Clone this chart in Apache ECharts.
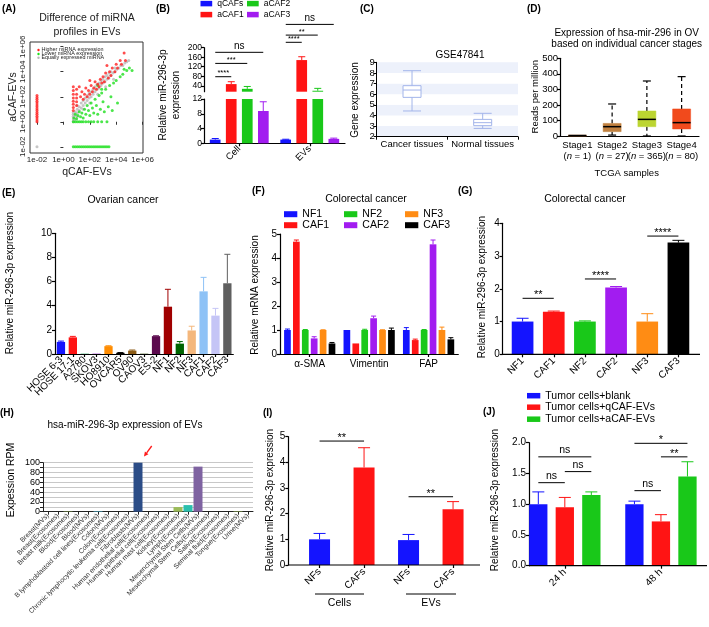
<!DOCTYPE html>
<html><head><meta charset="utf-8">
<script src="https://cdn.jsdelivr.net/npm/echarts@6/dist/echarts.min.js"></script>
<style>html,body{margin:0;padding:0;background:#fff}#c{width:709px;height:627px}</style>
</head><body><div id="c"></div>
<script>
// ---------------- DATA ----------------
// (A) scatter, log10 of normalized counts [qCAF-EVs, aCAF-EVs]
const aTicks = [-2, 0, 2, 4, 6];
const aRed = [[-2,0.0],[-2,0.15],[-2,0.3],[-2,0.45],[-2,0.6],[-2,0.75],[-2,0.9],[-2,1.05],[-2,1.2],[-2,1.35],[-2,1.5],[-2,1.65],[-2,1.8],[-2,1.95],[-2,2.1],
 [0.75,0.9],[0.75,1.15],[0.75,1.4],[0.75,1.65],[0.75,1.9],[0.75,2.2],[0.75,2.5],[0.75,2.8],
 [1.0,1.3],[1.0,1.6],[1.0,1.9],[1.0,2.2],[1.0,2.6],[1.2,2.8],[1.3,2.0],[1.4,2.4],[1.5,1.8],[1.6,2.2],[1.7,2.7],[1.8,2.0],[1.9,2.5],
 [2.0,2.2],[2.0,3.3],[2.1,2.9],[2.2,2.4],[2.3,2.7],[2.4,3.2],[2.5,2.6],[2.6,3.0],[2.7,2.8],[2.8,3.4],[2.9,3.1],[3.0,3.6],[3.1,3.2],
 [3.2,3.9],[3.3,4.5],[3.4,3.5],[3.5,4.0],[3.6,3.7],[3.7,4.3],[3.9,4.0],[4.0,4.6],[4.1,4.3],[4.3,4.9],[4.4,4.6],[4.6,5.5],[4.7,4.9]];
const aGray = [[-2,-2],[0.75,0.0],[0.75,0.15],[0.75,0.3],[0.75,0.45],[0.75,0.6],[0.75,0.75],[0.9,0.2],[0.9,0.5],[0.9,0.8],
 [1.05,0.4],[1.05,0.7],[1.05,1.0],[1.05,1.3],[1.2,0.9],[1.2,1.2],[1.35,1.1],[1.35,1.5],[1.5,1.0],[1.5,1.3],[1.5,1.7],[1.65,1.5],[1.65,1.9],
 [1.8,1.7],[1.8,2.1],[1.95,1.9],[1.95,2.3],[2.0,1.5],[2.1,2.0],[2.1,2.4],[2.25,2.2],[2.25,2.6],[2.4,2.4],[2.4,2.8],[2.55,2.6],[2.55,3.0],
 [2.6,2.2],[2.7,2.7],[2.7,3.1],[2.85,2.9],[2.85,3.3],[3.0,3.1],[3.0,3.4],[3.15,3.2],[3.15,3.6],[3.2,2.8],[3.3,3.4],[3.3,3.7],[3.45,3.5],
 [3.45,3.9],[3.6,3.7],[3.6,4.0],[3.75,3.9],[3.8,3.4],[3.9,4.0],[3.9,4.3],[4.05,4.2],[4.2,4.3],[4.35,4.5],[4.5,4.5],[4.65,4.7],[4.8,4.8],[4.95,4.9]];
const aGreen = [[0.75,-2],[0.9,-2],[1.05,-2],[1.2,-2],[1.35,-2],[1.5,-2],[1.65,-2],[1.8,-2],[1.95,-2],[2.1,-2],[2.25,-2],[2.4,-2],[2.55,-2],[2.7,-2],[2.85,-2],[3.0,-2],[3.15,-2],[3.3,-2],[3.45,-2],
 [0.75,0],[0.9,0],[1.05,0],[1.2,0],[1.35,0],[1.5,0],[1.7,0],[1.9,0],[2.1,0],[2.3,0],[2.6,0],[2.9,0],[3.3,0],
 [0.8,0.3],[0.9,0.6],[1.0,0.25],[1.1,0.5],[1.2,0.8],[1.3,0.4],[1.4,0.7],[1.5,0.3],[1.6,1.0],[1.7,0.6],[1.8,1.3],[1.9,0.9],[2.0,0.5],
 [2.1,1.5],[2.2,1.1],[2.3,0.7],[2.4,1.8],[2.5,1.3],[2.6,0.6],[2.6,2.9],[2.7,2.1],[2.8,1.0],[2.9,2.3],[2.9,2.6],[3.0,1.6],[3.1,0.8],[3.2,2.6],
 [3.4,1.2],[3.5,2.9],[3.6,2.0],[3.7,0.9],[3.8,3.1],[4.0,3.3],[4.1,1.5],[4.3,3.6],[4.5,3.8],[4.6,4.2],[4.8,4.1],[5.0,4.3],[5.2,4.1]];

// (B)
const bCats = ['Cell', 'EVs'];
const bNames = ['qCAFs', 'aCAF1', 'aCAF2', 'aCAF3'];
const bValues = [[1.0, 1.0], [47, 148], [27, 19], [8.75, 1.2]];
const bErrors = [[0.3, 0.1], [10, 14], [10, 10], [2.5, 0.2]];
const bUpperTicks = [40, 80, 120, 160, 200];

// (C) [min, Q1, median, Q3, max]
const cCats = ['Cancer tissues', 'Normal tissues'];
const cBoxes = [[4.42, 5.7, 6.39, 6.8, 8.21], [2.78, 3.04, 3.32, 3.63, 4.2]];

// (D)
const dCats = ['Stage1', 'Stage2', 'Stage3', 'Stage4'];
const dCounts = ['1', '27', '365', '80'];
const dBoxes = [[1, 1, 3, 6, 6], [6, 28, 60, 81, 206], [0, 60, 107, 161, 354], [0, 45, 86, 174, 382]];

// (E)
const eCats = ['HOSE 6-3','HOSE 17-1','A2780','SKOV3','HO8910','OVCAR5','OV90','CAOV3','ES-2','NF1','NF2','NF3','CAF1','CAF2','CAF3'];
const eValues = [1.0, 1.38, 0.03, 0.03, 0.65, 0.1, 0.28, 0.03, 1.48, 3.92, 0.86, 1.95, 5.19, 3.18, 5.86];
const eErrors = [0.07, 0.08, 0, 0, 0.03, 0.02, 0.05, 0, 0.03, 1.44, 0.17, 0.35, 1.16, 0.6, 2.4];

// (F)
const fCats = ['α-SMA', 'Vimentin', 'FAP'];
const fNames = ['NF1', 'CAF1', 'NF2', 'CAF2', 'NF3', 'CAF3'];
const fValues = [[1.0, 1.0, 1.0], [4.68, 0.44, 0.58], [1.0, 1.0, 1.0], [0.65, 1.49, 4.57], [1.0, 1.0, 1.0], [0.44, 1.0, 0.61]];
const fErrors = [[0.04, 0, 0.1], [0.07, 0, 0.04], [0.02, 0.03, 0.02], [0.07, 0.09, 0.18], [0.01, 0.01, 0.12], [0.04, 0.08, 0.07]];

// (G)
const gCats = ['NF1', 'CAF1', 'NF2', 'CAF2', 'NF3', 'CAF3'];
const gValues = [1.0, 1.3, 1.0, 2.04, 1.0, 3.41];
const gErrors = [0.1, 0.02, 0.02, 0.03, 0.24, 0.07];

// (H)
const hCats = ['Breast(MVs)','Breast(Exosomes)','Breast milk(Exosomes)','Blood(Exosomes)','Blood(MVs)','B lymphoblastoid cell lines(Exosomes)','Colon(MVs)','Colon(Exosomes)','Chronic lymphocytic leukemia cell(Exosomes)','Fibroblasts(MVs)','Human endothelial cell(Exosomes)','Human epithelial cell(Exosomes)','Human mast cell(Exosomes)','Kidney(Exosomes)','Lymph(Exosomes)','Mesenchymal Stem Cells(MVs)','Mesenchymal Stem Cells(Exosomes)','Saliva(Exosomes)','Seminal fluid(Exosomes)','Tongue(Exosomes)','Urine(MVs)'];
const hValues = [0, 0, 0.8, 0, 0, 1.2, 0, 0, 0, 101, 0, 0, 0, 9.5, 13.5, 92, 0, 0, 0, 1, 0];

// (I)
const iCats = ['NFs', 'CAFs', 'NFs', 'CAFs'];
const iValues = [1.0, 3.8, 0.97, 2.17];
const iErrors = [0.23, 0.77, 0.22, 0.3];

// (J)
const jCats = ['24 h', '48 h'];
const jNames = ['Tumor cells+blank', 'Tumor cells+qCAF-EVs', 'Tumor cells+aCAF-EVs'];
const jValues = [[1.0, 1.0], [0.95, 0.72], [1.15, 1.45]];
const jErrors = [[0.2, 0.05], [0.16, 0.11], [0.05, 0.24]];

// ---------------- STYLES ----------------
const FONT = '"Liberation Sans", Arial, sans-serif';
const bColors = ['#1414ff', '#ff1414', '#19c819', '#a21cf0'];
const eColors = ['#1414ff','#ff1414','#3cb371','#9932cc','#ff8c00','#000000','#8b5a14','#556b2f','#5c0a4e','#a00000','#006400','#f4b77c','#8ec2f6','#c5c5f6','#5f5f5f'];
const fColors = ['#1414ff', '#ff1414', '#19c819', '#a21cf0', '#ff8c14', '#000000'];
const gColors = ['#1414ff', '#ff1414', '#19c819', '#a21cf0', '#ff8c14', '#000000'];
const hColors = ['#4f81bd','#4f81bd','#9bbb59','#4f81bd','#4f81bd','#4bacc6','#4f81bd','#4f81bd','#4f81bd','#2c4d87','#4f81bd','#4f81bd','#4f81bd','#9bbb59','#2bc0ae','#7f63a1','#4f81bd','#4f81bd','#4f81bd','#9bbb59','#4f81bd'];
const iColors = ['#1414ff', '#ff1414', '#1414ff', '#ff1414'];
const jColors = ['#1414ff', '#ff1414', '#19c819'];
const dColors = ['#c8783c', '#c0803f', '#bcd531', '#f14a1c'];

const AXL = {lineStyle: {color: '#000', width: 1.2}};
function tk(extra) { return Object.assign({show: true, length: 3, lineStyle: {color: '#000', width: 1.2}}, extra || {}); }
function lb(fs, extra) { return Object.assign({color: '#000', fontSize: fs, fontFamily: FONT}, extra || {}); }

function errSeries(xi, yi, data, off, color, cap, lw) {
  return {type: 'custom', xAxisIndex: xi, yAxisIndex: yi, data: data, encode: {x: 0, y: [1, 2]}, z: 3, silent: true, clip: false,
    renderItem: function (p, api) {
      var idx = api.value(0);
      var c0 = api.coord([idx, api.value(1)]), c1 = api.coord([idx, api.value(2)]);
      var x = c0[0] + off;
      var col = Array.isArray(color) ? color[idx] : color;
      var st = {stroke: col, lineWidth: lw || 1};
      return {type: 'group', children: [
        {type: 'line', shape: {x1: x, y1: c0[1], x2: x, y2: c1[1]}, style: st},
        {type: 'line', shape: {x1: x - cap, y1: c1[1], x2: x + cap, y2: c1[1]}, style: st}]};
    }};
}
function errData(vals, errs) {
  var out = [];
  vals.forEach(function (v, i) { if (errs[i] > 0) out.push([i, v, v + errs[i]]); });
  return out;
}
function sigSeries(xi, yi, items, fsStar, fsNs) {
  return {type: 'custom', xAxisIndex: xi, yAxisIndex: yi, silent: true, z: 4, clip: false,
    data: items.map(function (t) { return [t[0], t[2], t[4], t[1], t[3]]; }),
    encode: {x: [0, 1], y: 2},
    renderItem: function (p, api) {
      var a = api.coord([api.value(0), api.value(2)]), b = api.coord([api.value(1), api.value(2)]);
      var x1 = a[0] + api.value(3), x2 = b[0] + api.value(4), y = a[1];
      var txt = items[p.dataIndex][5];
      var isNs = txt === 'ns';
      var fs = isNs ? fsNs : fsStar;
      return {type: 'group', children: [
        {type: 'line', shape: {x1: x1, y1: y, x2: x2, y2: y}, style: {stroke: '#000', lineWidth: 1}},
        {type: 'text', style: {text: txt, x: (x1 + x2) / 2, y: isNs ? y - 1 : y - 5 - 0.31 * fs, align: 'center',
          verticalAlign: isNs ? 'bottom' : 'top', fontSize: fs, fill: '#000', fontFamily: FONT}}]};
    }};
}

// ---------------- GRIDS / AXES ----------------
const grid = [
  {left: 30, top: 42, width: 113, height: 111, show: true, borderColor: '#333', borderWidth: 1, backgroundColor: 'transparent'}, //0 A
  {left: 204, top: 47.7, width: 141, height: 44},     //1 B upper
  {left: 204, top: 99, width: 141, height: 44.3},     //2 B lower
  {left: 376.7, top: 62.3, width: 141.3, height: 74.4}, //3 C
  {left: 560, top: 58.3, width: 139, height: 77.7},   //4 D
  {left: 55, top: 233.3, width: 178.3, height: 120.7}, //5 E
  {left: 280, top: 234, width: 178.3, height: 120},   //6 F
  {left: 507, top: 223.3, width: 187, height: 131},   //7 G
  {left: 43, top: 462.7, width: 210, height: 49},     //8 H
  {left: 297.3, top: 436.7, width: 178, height: 128.3}, //9 I
  {left: 516.75, top: 442.7, width: 195, height: 123}  //10 J
];
function logFmt(v) { return '1e' + (v < 0 ? '-' : '+') + String(Math.abs(v)).padStart(2, '0'); }

const xAxis = [
  {type: 'value', gridIndex: 0, min: -2.53, max: 6.03, axisLine: {show: false}, splitLine: {show: false},
    axisTick: {show: true, customValues: aTicks, length: 3, lineStyle: {color: '#333'}},
    axisLabel: lb(8, {customValues: aTicks, formatter: logFmt, margin: 3, color: '#222'})},
  {type: 'category', gridIndex: 1, data: bCats, show: false},
  {type: 'category', gridIndex: 2, data: bCats, axisLine: AXL, axisTick: tk({alignWithLabel: true}), axisLabel: lb(9.5, {rotate: 45, margin: 4, interval: 0})},
  {type: 'category', gridIndex: 3, data: cCats, axisLine: {lineStyle: {color: '#000', width: 1}}, axisTick: tk({lineStyle: {color: '#000', width: 1}}), axisLabel: lb(9.5, {margin: 3, interval: 0})},
  {type: 'category', gridIndex: 4, data: dCats, axisLine: AXL, axisTick: {show: false},
    axisLabel: lb(9.5, {margin: 4, interval: 0, lineHeight: 11,
      formatter: function (v, i) { return v + '\n({it|n} = ' + dCounts[i] + ')'; },
      rich: {it: {fontStyle: 'italic', fontSize: 9.5, fontFamily: FONT, color: '#000'}}})},
  {type: 'category', gridIndex: 5, data: eCats, axisLine: AXL, axisTick: tk({alignWithLabel: true}), axisLabel: lb(10, {rotate: 45, margin: 4, interval: 0})},
  {type: 'category', gridIndex: 6, data: fCats, axisLine: AXL, axisTick: tk({alignWithLabel: true}), axisLabel: lb(10, {margin: 5, interval: 0})},
  {type: 'category', gridIndex: 7, data: gCats, axisLine: {show: false}, axisTick: tk({alignWithLabel: true}), axisLabel: lb(10, {rotate: 45, margin: 5, interval: 0})},
  {type: 'category', gridIndex: 8, data: hCats, axisLine: {lineStyle: {color: '#222', width: 1}}, axisTick: tk({alignWithLabel: true, lineStyle: {color: '#222', width: 1}}), axisLabel: lb(6.8, {rotate: 45, margin: 3, interval: 0, color: '#333'})},
  {type: 'category', gridIndex: 9, data: iCats, axisLine: {show: false}, axisTick: tk({alignWithLabel: true}), axisLabel: lb(10, {rotate: 45, margin: 5, interval: 0})},
  {type: 'category', gridIndex: 10, data: jCats, axisLine: {show: false}, axisTick: tk({alignWithLabel: true}), axisLabel: lb(10, {rotate: 45, margin: 5, interval: 0})}
];
const yAxis = [
  {type: 'value', gridIndex: 0, min: -2.5, max: 6.38, axisLine: {show: false}, splitLine: {show: false},
    axisTick: {show: true, customValues: aTicks, length: 3, lineStyle: {color: '#333'}},
    axisLabel: lb(8, {customValues: aTicks, formatter: logFmt, rotate: 90, margin: 3, color: '#222'})},
  {type: 'value', gridIndex: 1, min: 15, max: 200, axisLine: Object.assign({show: true}, AXL), splitLine: {show: false},
    axisTick: tk({customValues: bUpperTicks}), axisLabel: lb(8.5, {customValues: bUpperTicks, margin: 2})},
  {type: 'value', gridIndex: 2, min: 0, max: 12, interval: 4, axisLine: Object.assign({show: true}, AXL), splitLine: {show: false}, axisTick: tk(), axisLabel: lb(8.5, {margin: 2})},
  {type: 'value', gridIndex: 3, min: 2, max: 9, interval: 1, axisLine: {show: true, lineStyle: {color: '#000', width: 1}}, splitLine: {show: false},
    splitArea: {show: true, areaStyle: {color: ['#edf1fb', '#ffffff']}}, axisTick: tk({lineStyle: {color: '#000', width: 1}}), axisLabel: lb(9.5, {margin: 2})},
  {type: 'value', gridIndex: 4, min: 0, max: 500, interval: 100, axisLine: Object.assign({show: true}, AXL), splitLine: {show: false}, axisTick: tk(), axisLabel: lb(9.5, {margin: 2})},
  {type: 'value', gridIndex: 5, min: 0, max: 10, interval: 2, axisLine: Object.assign({show: true}, AXL), splitLine: {show: false}, axisTick: tk(), axisLabel: lb(10, {margin: 3})},
  {type: 'value', gridIndex: 6, min: 0, max: 5, interval: 1, axisLine: Object.assign({show: true}, AXL), splitLine: {show: false}, axisTick: tk(), axisLabel: lb(10, {margin: 3})},
  {type: 'value', gridIndex: 7, min: 0, max: 4, interval: 1, offset: 4.3, axisLine: Object.assign({show: true}, AXL), splitLine: {show: false}, axisTick: tk(), axisLabel: lb(10, {margin: 3})},
  {type: 'value', gridIndex: 8, min: 0, max: 100, interval: 10, axisLine: {show: true, lineStyle: {color: '#222', width: 1}}, splitLine: {show: true, lineStyle: {color: '#c8c8c8', width: 1}},
    axisTick: tk({lineStyle: {color: '#222', width: 1}}), axisLabel: lb(9, {margin: 3, formatter: function (v) { return v % 20 === 0 ? v : ''; }})},
  {type: 'value', gridIndex: 9, min: 0, max: 5, interval: 1, offset: 9, axisLine: Object.assign({show: true}, AXL), splitLine: {show: false}, axisTick: tk(), axisLabel: lb(10, {margin: 3})},
  {type: 'value', gridIndex: 10, min: 0, max: 2, interval: 0.5, offset: -12.25, axisLine: Object.assign({show: true}, AXL), splitLine: {show: false}, axisTick: tk(),
    axisLabel: lb(10, {margin: 3, formatter: function (v) { return v.toFixed(1); }})}
];

// ---------------- SERIES ----------------
const series = [];
// A
series.push({type: 'scatter', xAxisIndex: 0, yAxisIndex: 0, data: aGray, symbolSize: 3, itemStyle: {color: '#b8b8b8'}, silent: true});
series.push({type: 'scatter', xAxisIndex: 0, yAxisIndex: 0, data: aGreen, symbolSize: 3, itemStyle: {color: '#1ee01e'}, silent: true});
series.push({type: 'scatter', xAxisIndex: 0, yAxisIndex: 0, data: aRed, symbolSize: 3, itemStyle: {color: '#ff2020'}, silent: true});
// B
bNames.forEach(function (n, i) {
  [1, 2].forEach(function (ax) {
    series.push({type: 'bar', name: n, xAxisIndex: ax, yAxisIndex: ax, data: bValues[i], barWidth: 10.7, barGap: '50%', clip: true, itemStyle: {color: bColors[i]}, silent: true});
  });
  var off = (i - 1.5) * 16;
  var up = [], lo = [];
  bValues[i].forEach(function (v, k) { (v > 12 ? up : lo).push([k, v, v + bErrors[i][k]]); });
  series.push(errSeries(1, 1, up, off, bColors[i], 3.5));
  series.push(errSeries(2, 2, lo, off, bColors[i], 3.5));
});
series.push(sigSeries(1, 1, [
  [0, -24, 0, -8, 78, '****'], [0, -24, 0, 8, 134, '***'], [0, -24, 0, 24, 180.6, 'ns'],
  [1, -24, 1, -8, 222.7, '****'], [1, -24, 1, 8, 253, '**'], [1, -24, 1, 24, 298, 'ns']], 7.5, 10));
// C
series.push({type: 'boxplot', xAxisIndex: 3, yAxisIndex: 3, data: cBoxes, boxWidth: [18, 18], silent: true,
  itemStyle: {color: '#ffffff', borderColor: '#a3b5ea', borderWidth: 1}});
// D
series.push({type: 'custom', xAxisIndex: 4, yAxisIndex: 4, silent: true,
  data: dBoxes.map(function (b, i) { return [i].concat(b); }), encode: {x: 0, y: [1, 2, 3, 4, 5]},
  renderItem: function (p, api) {
    var i = api.value(0);
    var pMin = api.coord([i, api.value(1)]), pQ1 = api.coord([i, api.value(2)]), pMed = api.coord([i, api.value(3)]),
        pQ3 = api.coord([i, api.value(4)]), pMax = api.coord([i, api.value(5)]);
    var x = pMed[0], hw = 9, cw = 4, col = dColors[i];
    var ch = [];
    if (pMax[1] < pQ3[1]) {
      ch.push({type: 'line', shape: {x1: x, y1: pQ3[1], x2: x, y2: pMax[1]}, style: {stroke: '#000', lineWidth: 1.2, lineDash: [4, 3]}});
      ch.push({type: 'line', shape: {x1: x - cw, y1: pMax[1], x2: x + cw, y2: pMax[1]}, style: {stroke: '#000', lineWidth: 1.2}});
    }
    if (pMin[1] > pQ1[1]) {
      ch.push({type: 'line', shape: {x1: x, y1: pQ1[1], x2: x, y2: pMin[1]}, style: {stroke: '#000', lineWidth: 1.2, lineDash: [4, 3]}});
      ch.push({type: 'line', shape: {x1: x - cw, y1: pMin[1], x2: x + cw, y2: pMin[1]}, style: {stroke: '#000', lineWidth: 1.2}});
    }
    ch.push({type: 'rect', shape: {x: x - hw, y: pQ3[1], width: 2 * hw, height: Math.max(1, pQ1[1] - pQ3[1])}, style: {fill: col, stroke: col, lineWidth: 0.5}});
    ch.push({type: 'line', shape: {x1: x - hw, y1: pMed[1], x2: x + hw, y2: pMed[1]}, style: {stroke: '#000', lineWidth: 1.5}});
    return {type: 'group', children: ch};
  }});
// E
series.push({type: 'bar', xAxisIndex: 5, yAxisIndex: 5, barWidth: 8.3, silent: true,
  data: eValues.map(function (v, i) { return {value: v, itemStyle: {color: eColors[i]}}; })});
series.push(errSeries(5, 5, errData(eValues, eErrors), 0, eColors, 3));
// F
fNames.forEach(function (n, i) {
  series.push({type: 'bar', name: n, xAxisIndex: 6, yAxisIndex: 6, data: fValues[i], barWidth: 6.7, barGap: '33%', itemStyle: {color: fColors[i]}, silent: true});
  series.push(errSeries(6, 6, errData(fValues[i], fErrors[i]), (i - 2.5) * 8.9, fColors[i], 2.5));
});
// G
series.push({type: 'bar', xAxisIndex: 7, yAxisIndex: 7, barWidth: 21.7, silent: true,
  data: gValues.map(function (v, i) { return {value: v, itemStyle: {color: gColors[i]}}; })});
series.push(errSeries(7, 7, errData(gValues, gErrors), 0, gColors, 6));
series.push(sigSeries(7, 7, [[0, 0, 1, 0, 1.71, '**'], [2, 0, 3, 0, 2.30, '****'], [4, 0, 5, 0, 3.61, '****']], 11, 10.5));
// H
series.push({type: 'bar', xAxisIndex: 8, yAxisIndex: 8, barWidth: 9, silent: true,
  data: hValues.map(function (v, i) { return {value: v, itemStyle: {color: hColors[i]}}; })});
// I
series.push({type: 'bar', xAxisIndex: 9, yAxisIndex: 9, barWidth: 21, silent: true,
  data: iValues.map(function (v, i) { return {value: v, itemStyle: {color: iColors[i]}}; })});
series.push(errSeries(9, 9, errData(iValues, iErrors), 0, iColors, 6));
series.push(sigSeries(9, 9, [[0, 0, 1, 0, 4.83, '**'], [2, 0, 3, 0, 2.66, '**']], 11, 10.5));
// J
jNames.forEach(function (n, i) {
  series.push({type: 'bar', name: n, xAxisIndex: 10, yAxisIndex: 10, data: jValues[i], barWidth: 18.3, barGap: '45%', itemStyle: {color: jColors[i]}, silent: true});
  series.push(errSeries(10, 10, errData(jValues[i], jErrors[i]), (i - 1) * 26.5, jColors[i], 6));
});
series.push(sigSeries(10, 10, [
  [0, -26.5, 0, 0, 1.35, 'ns'], [0, 0, 0, 26.5, 1.53, 'ns'], [0, -26.5, 0, 26.5, 1.77, 'ns'],
  [1, -26.5, 1, 0, 1.22, 'ns'], [1, 0, 1, 26.5, 1.77, '**'], [1, -26.5, 1, 26.5, 1.99, '*']], 11, 10.5));

// ---------------- LEGENDS ----------------
const legend = [];
function LG(name, left, cy, fs, w, h) {
  legend.push({data: [name], left: left, top: cy - 0.6 * fs, orient: 'horizontal', padding: 0, itemGap: 0,
    itemWidth: w, itemHeight: h, icon: 'rect', selectedMode: false,
    textStyle: {fontSize: fs, color: '#000', fontFamily: FONT}});
}
LG('qCAFs', 200.5, 4.2, 8.5, 11.7, 5.5); LG('aCAF2', 247, 4.2, 8.5, 11.7, 5.5);
LG('aCAF1', 200.5, 15.2, 8.5, 11.7, 5.5); LG('aCAF3', 247, 15.2, 8.5, 11.7, 5.5);
LG('NF1', 284, 215, 10.5, 13.3, 6); LG('NF2', 344, 215, 10.5, 13.3, 6); LG('NF3', 405, 215, 10.5, 13.3, 6);
LG('CAF1', 284, 226, 10.5, 13.3, 6); LG('CAF2', 344, 226, 10.5, 13.3, 6); LG('CAF3', 405, 226, 10.5, 13.3, 6);
LG(jNames[0], 527, 396.5, 10.5, 13.3, 5.5); LG(jNames[1], 527, 408, 10.5, 13.3, 5.5); LG(jNames[2], 527, 420, 10.5, 13.3, 5.5);

// ---------------- GRAPHIC (texts, annotations) ----------------
const graphic = [];
const R90 = Math.PI / 2;
function T(text, x, y, o) {
  o = o || {};
  graphic.push({type: 'text', x: x, y: y, rotation: o.rot || 0, silent: true, z: 10,
    style: {text: text, align: o.align || 'center', verticalAlign: o.va || 'middle', fontSize: o.fs || 10,
      fontWeight: o.fw || 'normal', fill: o.color || '#000', fontFamily: FONT, lineHeight: o.lh || undefined}});
}
function L(x1, y1, x2, y2, o) {
  o = o || {};
  graphic.push({type: 'line', silent: true, z: 10, shape: {x1: x1, y1: y1, x2: x2, y2: y2}, style: {stroke: o.color || '#000', lineWidth: o.w || 1}});
}
// panel letters
[['(A)', 2, 9], ['(B)', 156, 9], ['(C)', 360, 9], ['(D)', 527, 9], ['(E)', 2, 193], ['(F)', 252, 191],
 ['(G)', 458, 191], ['(H)', 0, 413], ['(I)', 263, 413], ['(J)', 483, 412]].forEach(function (p) {
  T(p[0], p[1], p[2], {align: 'left', fw: 'bold', fs: 10});
});
// A
T('Difference of miRNA', 87, 18.3, {fs: 10.5, color: '#222'});
T('profiles in EVs', 87, 31.7, {fs: 10.5, color: '#222'});
T('aCAF-EVs', 12.7, 97, {rot: R90, fs: 10.5, color: '#222'});
T('qCAF-EVs', 87, 172, {fs: 10.5, color: '#222'});
[['Higher miRNA expression', '#ff2020', 50], ['Lower miRNA expression', '#1ee01e', 54], ['Equally expressed miRNA', '#b8b8b8', 57.8]].forEach(function (r) {
  graphic.push({type: 'circle', silent: true, z: 10, shape: {cx: 38.5, cy: r[2], r: 1.2}, style: {fill: r[1]}});
  T(r[0], 41.5, r[2], {align: 'left', fs: 5.4, color: '#222'});
});
// B
T('Relative miR-296-3p\nexpression', 169.5, 95, {rot: R90, fs: 10, lh: 12.5});
// C
T('GSE47841', 460, 55, {fs: 10});
T('Gene expression', 355, 100, {rot: R90, fs: 10});
// D
T('Expression of hsa-mir-296 in OV', 626.7, 33.3, {fs: 10});
T('based on individual cancer stages', 626.7, 44, {fs: 10});
T('Reads per million', 535, 96.7, {rot: R90, fs: 9.5});
T('TCGA samples', 626.7, 173.3, {fs: 9.5});
// E
T('Ovarian cancer', 123, 200, {fs: 10.5});
T('Relative miR-296-3p expression', 10.5, 283, {rot: R90, fs: 10});
// F
T('Colorectal cancer', 366, 199, {fs: 10.5});
T('Relative mRNA expression', 255, 295, {rot: R90, fs: 10});
// G
T('Colorectal cancer', 585, 199, {fs: 10.5});
T('Relative miR-296-3p expression', 482, 287, {rot: R90, fs: 10});
L(502.7, 354.3, 700, 354.3, {w: 1.2});
// H
T('hsa-miR-296-3p expression of EVs', 125, 425, {fs: 10});
T('Expession RPM', 11, 480, {rot: R90, fs: 10.5});
(function () {
  var x1 = 151.7, y1 = 446, x2 = 144, y2 = 456.5;
  var dx = x2 - x1, dy = y2 - y1, len = Math.sqrt(dx * dx + dy * dy), ux = dx / len, uy = dy / len;
  var bx = x2 - ux * 4.5, by = y2 - uy * 4.5;
  L(x1, y1, bx, by, {color: '#ff1a1a', w: 1.3});
  graphic.push({type: 'polygon', silent: true, z: 10, shape: {points: [[x2, y2], [bx - uy * 2.2, by + ux * 2.2], [bx + uy * 2.2, by - ux * 2.2]]}, style: {fill: '#ff1a1a'}});
})();
// I
T('Relative miR-296-3p expression', 270, 500, {rot: R90, fs: 10});
L(288.3, 565, 480, 565, {w: 1.2});
L(315, 594, 364, 594); L(406, 594, 456, 594);
T('Cells', 339.5, 603.5, {fs: 10.5});
T('EVs', 431, 603.5, {fs: 10.5});
// J
T('Relative miR-296-3p expression', 495, 500, {rot: R90, fs: 10});
L(529, 565.7, 707, 565.7, {w: 1.2});

const chart = echarts.init(document.getElementById('c'), null, {renderer: 'canvas', width: 709, height: 627});
chart.setOption({
  animation: false,
  backgroundColor: '#ffffff',
  textStyle: {fontFamily: FONT},
  grid: grid, xAxis: xAxis, yAxis: yAxis, series: series, legend: legend, graphic: graphic
});
</script></body></html>
